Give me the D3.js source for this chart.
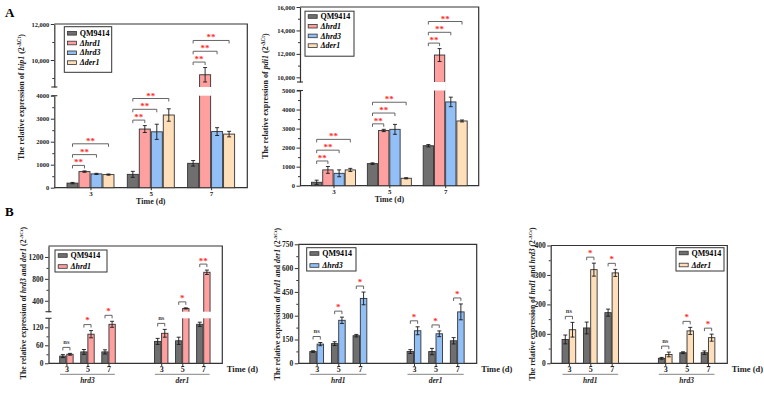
<!DOCTYPE html>
<html>
<head>
<meta charset="utf-8">
<script src="https://cdn.jsdelivr.net/npm/d3@7"></script>
<style>
  body { margin: 0; background: #fff; }
  svg { display: block; font-family: "Liberation Serif", "Times New Roman", serif; font-weight: bold; }
</style>
</head>
<body>
<script>
'use strict';

// ---- data ----
const strains = ["QM9414", "Δhrd1", "Δhrd3", "Δder1"];
const days = ["3", "5", "7"];

// A : rows = days, columns = strains
const hip1Mean = [[200, 700, 600, 570], [580, 2550, 2430, 3160], [1060, 9180, 2440, 2330]];
const hip1Err  = [[30, 30, 25, 25], [130, 150, 330, 270], [120, 400, 170, 120]];
const pdi1Mean = [[180, 830, 650, 830], [1160, 2900, 2960, 390], [2100, 11900, 4400, 3400]];
const pdi1Err  = [[110, 180, 180, 80], [40, 60, 260, 30], [60, 550, 250, 50]];
const sigA = ["**", "**", "**"];

// B : rows = genes, columns = days
const b1Genes = ["hrd3", "der1"];
const b1Wt = [[24, 38, 38], [73, 75, 130]];
const b1WtErr = [[5, 8, 7], [10, 12, 7]];
const b1Mut = [[30, 97, 130], [100, 260, 920]];
const b1MutErr = [[3, 12, 10], [13, 10, 40]];
const b1Sig = [["ns", "*", "*"], ["ns", "*", "**"]];

const b2Genes = ["hrd1", "der1"];
const b2Wt = [[74, 124, 174], [74, 74, 142]];
const b2WtErr = [[5, 12, 8], [12, 20, 20]];
const b2Mut = [[121, 271, 409], [205, 186, 324]];
const b2MutErr = [[10, 20, 40], [25, 18, 50]];
const b2Sig = [["ns", "*", "*"], ["*", "*", "*"]];

const b3Genes = ["hrd1", "hrd3"];
const b3Wt = [[81, 120, 172], [17, 36, 36]];
const b3WtErr = [[15, 20, 12], [3, 3, 6]];
const b3Mut = [[114, 318, 307], [30, 110, 87]];
const b3MutErr = [[25, 22, 12], [8, 12, 12]];
const b3Sig = [["ns", "*", "*"], ["ns", "*", "*"]];

// ---- style ----
const fills = { "QM9414": "#6f6f6f", "Δhrd1": "#ffa0a0", "Δhrd3": "#92c0f6", "Δder1": "#ffdfb9" };
const ink = "#333";
const red = "#ff2a2a";

const svg = d3.select("body").append("svg").attr("width", 764).attr("height", 394);

function styleAxis(a, fs) {
  a.attr("font-family", null).attr("font-size", fs).attr("font-weight", "bold");
  a.selectAll("line").attr("stroke", ink);
  a.selectAll("path").attr("stroke", ink).attr("stroke-width", 1.2);
  a.selectAll("text").attr("fill", "#222");
}

// frame + y axis (segments) ; returns y(v)
function frameAndY(g, o) {
  const scales = o.segs.map(s => d3.scaleLinear().domain(s.domain).range(s.range));
  o.segs.forEach((s, i) => {
    g.append("g").attr("transform", `translate(${o.l},0)`)
      .call(d3.axisLeft(scales[i]).tickValues(s.minor).tickSize(2).tickFormat("").tickSizeOuter(0))
      .call(a => { styleAxis(a, o.tfs); a.select(".domain").remove(); });
    g.append("g").attr("transform", `translate(${o.l},0)`)
      .call(d3.axisLeft(scales[i]).tickValues(s.major).tickSize(3.5).tickPadding(1.5)
        .tickFormat(s.fmt || (d => d)).tickSizeOuter(0))
      .call(a => styleAxis(a, o.tfs));
  });
  if (o.segs.length > 1) {
    [o.segs[0].range[1], o.segs[1].range[0]].forEach(yy => {
      g.append("line").attr("x1", o.l - 3).attr("x2", o.l + 3).attr("y1", yy).attr("y2", yy)
        .attr("stroke", ink).attr("stroke-width", 1.1);
    });
  }
  g.append("path").attr("d", `M${o.l},${o.t}H${o.r}V${o.b}H${o.l}`)
    .attr("fill", "none").attr("stroke", ink).attr("stroke-width", 1.2);
  return v => {
    for (let i = 0; i < o.segs.length; i++) {
      if (v <= o.segs[i].domain[1] || i === o.segs.length - 1) return scales[i](v);
    }
  };
}

function drawBars(g, bars, y, o) {
  g.append("g").selectAll("rect").data(bars).join("rect")
    .attr("x", d => d.x).attr("width", d => d.w)
    .attr("y", d => y(d.v)).attr("height", d => y(0) - y(d.v))
    .attr("fill", d => fills[d.s]).attr("stroke", ink).attr("stroke-width", 0.9);
  if (o.segs.length > 1) {
    const lo = o.segs[0], hi = o.segs[1];
    g.append("g").selectAll("rect").data(bars.filter(d => d.v > lo.domain[1])).join("rect")
      .attr("x", d => d.x - 1).attr("width", d => d.w + 2)
      .attr("y", hi.range[0]).attr("height", lo.range[1] - hi.range[0])
      .attr("fill", "#fff");
  }
  const eb = g.append("g").attr("stroke", "#1a1a1a").attr("stroke-width", 0.9);
  bars.forEach(d => {
    const cx = d.x + d.w / 2, c = Math.min(2, d.w / 3);
    const y1 = y(d.v + d.e), y2 = y(d.v - d.e);
    eb.append("path").attr("fill", "none")
      .attr("d", `M${cx},${y1}V${y2}M${cx - c},${y1}H${cx + c}M${cx - c},${y2}H${cx + c}`);
  });
}

function bracket(g, x1, x2, yy, label) {
  g.append("path").attr("d", `M${x1},${yy + 3}V${yy}H${x2}V${yy + 3}`)
    .attr("fill", "none").attr("stroke", "#555").attr("stroke-width", 0.9);
  const ns = label === "ns";
  g.append("text").attr("x", (x1 + x2) / 2).attr("y", ns ? yy - 3.2 : yy + (label === "**" ? 0 : -1.2))
    .attr("text-anchor", "middle").attr("font-size", ns ? 6.5 : 9)
    .attr("fill", ns ? "#444" : red).text(label);
}

function legend(g, box, items, ys) {
  g.append("rect").attr("x", box[0]).attr("y", box[1]).attr("width", box[2]).attr("height", box[3])
    .attr("fill", "#fff").attr("stroke", ink).attr("stroke-width", 1);
  items.forEach((s, i) => {
    g.append("rect").attr("x", box[0] + 3.2).attr("y", ys[i] - 1.8).attr("width", 9).attr("height", 3.6)
      .attr("fill", fills[s]).attr("stroke", ink).attr("stroke-width", 0.8);
    g.append("text").attr("x", box[0] + 15.5).attr("y", ys[i]).attr("dy", "0.33em")
      .attr("font-size", 8).attr("font-style", s === "QM9414" ? null : "italic").text(s);
  });
}

function yTitle(g, x, y, parts, fs) {
  const t = g.append("text").attr("transform", `translate(${x},${y}) rotate(-90)`)
    .attr("text-anchor", "middle").attr("font-size", fs).attr("fill", "#222");
  parts.forEach(p => {
    const s = t.append("tspan").text(p[0]);
    if (p[1] === "i") s.attr("font-style", "italic");
    if (p[1] === "sup") s.attr("font-size", fs * 0.65).attr("dy", -fs * 0.4);
    if (p[1] === "after") s.attr("dy", fs * 0.4);
  });
}

// ---- panel A ----
function panelA(o) {
  const g = svg.append("g");
  const y = frameAndY(g, o);
  const x = d3.scalePoint().domain(days).range([o.l, o.r]).padding(0.6);
  const inner = d3.scaleBand().domain(strains).range([-o.half, o.half]).paddingInner(0.08);
  g.append("g").attr("transform", `translate(0,${o.b})`)
    .call(d3.axisBottom(x).tickSize(2.5).tickPadding(0.5).tickSizeOuter(0))
    .call(a => { styleAxis(a, 7); a.select(".domain").remove(); });
  const bars = [];
  days.forEach((d, di) => strains.forEach((s, si) => bars.push({
    s, v: o.mean[di][si], e: o.err[di][si], x: x(d) + inner(s), w: inner.bandwidth()
  })));
  drawBars(g, bars, y, o);
  days.forEach((d, di) => {
    const cx = s => x(d) + inner(s) + inner.bandwidth() / 2;
    const base = Math.min(y(o.mean[di][0] + o.err[di][0]), y(o.mean[di][1] + o.err[di][1])) - 5.5;
    sigA.forEach((lab, k) => bracket(g, cx(strains[0]), cx(strains[k + 1]), base - 10.8 * k, lab));
  });
  g.append("text").attr("x", (o.l + o.r) / 2).attr("y", o.b + 16.5).attr("text-anchor", "middle")
    .attr("font-size", 8).attr("fill", "#222").text("Time (d)");
  legend(g, o.box, strains, o.legY);
  yTitle(g, o.titleX, o.titleY, [["The relative expression of "], [o.gene, "i"], [" (2"], ["-ΔCt", "sup"], [")", "after"]], 8);
}

const comma = d3.format(",");

panelA({
  l: 54.3, r: 247.3, t: 24, b: 187.7, half: 23.5, tfs: 6.5,
  segs: [
    { domain: [0, 4000], range: [187.7, 95.7], major: [0, 1000, 2000, 3000, 4000], minor: [500, 1500, 2500, 3500] },
    { domain: [8500, 12000], range: [87, 24], major: [10000, 12000], minor: [9000, 11000], fmt: comma }
  ],
  mean: hip1Mean, err: hip1Err, gene: "hip1",
  box: [64.3, 26.7, 47.4, 45.6], legY: [33.3, 43, 52.8, 62.6],
  titleX: 24, titleY: 97
});

panelA({
  l: 300, r: 478.7, t: 7, b: 185.7, half: 22, tfs: 6.5,
  segs: [
    { domain: [0, 5000], range: [185.7, 90.5], major: [0, 1000, 2000, 3000, 4000, 5000], minor: [500, 1500, 2500, 3500, 4500] },
    { domain: [9600, 16000], range: [82, 7], major: [10000, 12000, 14000, 16000], minor: [11000, 13000, 15000], fmt: comma }
  ],
  mean: pdi1Mean, err: pdi1Err, gene: "pdi1",
  box: [305, 11.2, 49, 45], legY: [16.5, 26.2, 35.9, 45.6],
  titleX: 268, titleY: 96
});

// ---- panel B ----
function panelB(o) {
  const g = svg.append("g");
  const y = frameAndY(g, o);
  const x = d3.scaleLinear().domain([-0.85, 7.4]).range([o.l, o.r]);
  const slot = (gi, di) => gi * 4.5 + di;
  const slots = [];
  o.genes.forEach((gn, gi) => days.forEach((d, di) => slots.push(slot(gi, di))));
  g.append("g").attr("transform", `translate(0,${o.b})`)
    .call(d3.axisBottom(x).tickValues(slots).tickFormat((d, i) => days[i % 3]).tickSize(3).tickPadding(0.5).tickSizeOuter(0))
    .call(a => { styleAxis(a, 8); a.select(".domain").remove(); });
  const bw = (x(1) - x(0)) * 0.3;
  const bars = [];
  o.genes.forEach((gn, gi) => days.forEach((d, di) => {
    const cx = x(slot(gi, di));
    bars.push({ s: "QM9414", v: o.wt[gi][di], e: o.wtErr[gi][di], x: cx - bw - 0.4, w: bw });
    bars.push({ s: o.mutant, v: o.mut[gi][di], e: o.mutErr[gi][di], x: cx + 0.4, w: bw });
  }));
  drawBars(g, bars, y, o);
  o.genes.forEach((gn, gi) => days.forEach((d, di) => {
    const cx = x(slot(gi, di));
    const yy = Math.min(y(o.wt[gi][di] + o.wtErr[gi][di]), y(o.mut[gi][di] + o.mutErr[gi][di])) - 6;
    bracket(g, cx - bw / 2 - 0.4, cx + bw / 2 + 0.4, yy, o.sig[gi][di]);
  }));
  // gene group lines and labels
  o.genes.forEach((gn, gi) => {
    const x1 = x(slot(gi, -0.3)), x2 = x(slot(gi, 2.3));
    g.append("line").attr("x1", x1).attr("x2", x2).attr("y1", o.b + 11).attr("y2", o.b + 11)
      .attr("stroke", "#777").attr("stroke-width", 0.9);
    g.append("text").attr("x", x(slot(gi, 1))).attr("y", o.b + 20).attr("text-anchor", "middle")
      .attr("font-size", 7.5).attr("font-style", "italic").attr("fill", "#222").text(gn);
  });
  g.append("text").attr("x", o.r + 4.5).attr("y", o.b + 8.5).attr("font-size", 8.5).attr("fill", "#222").text("Time (d)");
  legend(g, o.box, ["QM9414", o.mutant], o.legY);
  yTitle(g, o.titleX, o.titleY, [["The relative expression of "], [o.genes[0], "i"], [" and "], [o.genes[1], "i"], [" (2"], ["-ΔCt", "sup"], [")", "after"]], 7.7);
}

panelB({
  l: 48.5, r: 222.3, t: 246, b: 363.3, tfs: 7.5,
  segs: [
    { domain: [0, 150], range: [363.3, 318.3], major: [0, 60, 120], minor: [30, 90] },
    { domain: [200, 1400], range: [311.7, 246], major: [400, 800, 1200], minor: [600, 1000] }
  ],
  genes: b1Genes, mutant: "Δhrd1", wt: b1Wt, wtErr: b1WtErr, mut: b1Mut, mutErr: b1MutErr, sig: b1Sig,
  box: [55, 250, 52, 22], legY: [255.5, 266.5], titleX: 26, titleY: 303
});

panelB({
  l: 298.3, r: 476.7, t: 244.3, b: 363.3, tfs: 7.5,
  segs: [{ domain: [0, 750], range: [363.3, 244.3], major: [0, 150, 300, 450, 600, 750], minor: [75, 225, 375, 525, 675] }],
  genes: b2Genes, mutant: "Δhrd3", wt: b2Wt, wtErr: b2WtErr, mut: b2Mut, mutErr: b2MutErr, sig: b2Sig,
  box: [306.7, 247.7, 49.3, 23.3], legY: [253.5, 265.5], titleX: 280, titleY: 304
});

panelB({
  l: 550.7, r: 727.3, t: 245.5, b: 363.3, tfs: 7.5,
  segs: [{ domain: [0, 400], range: [363.3, 245.5], major: [0, 100, 200, 300, 400], minor: [50, 150, 250, 350] }],
  genes: b3Genes, mutant: "Δder1", wt: b3Wt, wtErr: b3WtErr, mut: b3Mut, mutErr: b3MutErr, sig: b3Sig,
  box: [676, 247.7, 48, 23.3], legY: [253, 265], titleX: 535, titleY: 304
});

// panel letters
svg.append("text").attr("x", 5).attr("y", 17).attr("font-size", 13).text("A");
svg.append("text").attr("x", 5).attr("y", 216).attr("font-size", 13).text("B");
</script>
</body>
</html>
